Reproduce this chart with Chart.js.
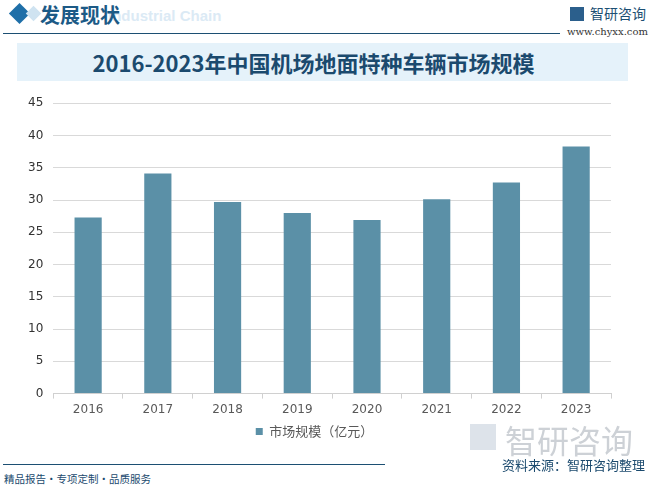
<!DOCTYPE html>
<html>
<head>
<meta charset="utf-8">
<script src="https://cdn.jsdelivr.net/npm/chart.js@4"></script>
<style>
  html,body{margin:0;padding:0;background:#fff;}
  body{width:651px;height:489px;position:relative;overflow:hidden;font-family:"Noto Sans CJK SC","Noto Sans",sans-serif;}
  .abs{position:absolute;}
  #diamond{left:12px;top:6px;width:15px;height:15px;background:#1f6fa8;transform:rotate(45deg);}
  #diamond2{left:28px;top:8px;width:11px;height:11px;background:#cfe3f1;transform:rotate(45deg);}
  #sect{left:40px;top:0px;font-size:20px;font-weight:bold;color:#1c5a86;font-family:"Noto Sans CJK SC";}
  #ghost{left:108px;top:7px;font-size:15px;font-weight:bold;color:#dbeaf5;font-family:"Liberation Sans",sans-serif;}
  #topline{left:3px;top:33px;width:557px;height:1px;background:#1c4f73;}
  #logo{left:570px;top:3px;font-size:14px;color:#1c4f73;}
  #url{left:567px;top:26px;font-size:10px;color:#333;font-family:"DejaVu Serif",serif;}
  #band{left:17px;top:43px;width:611px;height:38px;background:#e5f2fa;}
  #title{left:5px;top:43px;width:617px;height:38px;line-height:38px;text-align:center;font-size:22px;font-weight:bold;color:#1b4a6e;font-family:"Noto Sans CJK SC";}
  #chartbox{left:0px;top:86px;width:651px;height:362px;}
  #wmmark{left:470px;top:424px;width:26px;height:26px;background:#dde3ea;}
  #wm{left:505px;top:416px;font-size:32px;color:#cdd1d6;}
  #src{left:502px;top:455px;font-size:13px;color:#1b4a6e;}
  #botline{left:3px;top:464px;width:382px;height:1px;background:#1c4f73;}
  #slogan{left:4px;top:471px;font-size:10.5px;color:#1b4a6e;}
</style>
</head>
<body>
<div class="abs" id="diamond"></div>
<div class="abs" id="diamond2"></div>
<div class="abs" id="ghost">Industrial Chain</div>
<div class="abs" id="sect">发展现状</div>
<div class="abs" id="topline"></div>
<div class="abs" id="logo"><span style="display:inline-block;width:14px;height:14px;background:#2b5f8c;vertical-align:-2px;margin-right:6px;"></span>智研咨询</div>
<div class="abs" id="url">www.chyxx.com</div>
<div class="abs" id="band"></div>
<div class="abs" id="title">2016-2023年中国机场地面特种车辆市场规模</div>
<div class="abs" id="chartbox"><canvas id="c" width="651" height="362"></canvas></div>
<div class="abs" id="wmmark"></div>
<div class="abs" id="wm">智研咨询</div>
<div class="abs" id="src">资料来源：智研咨询整理</div>
<div class="abs" id="botline"></div>
<div class="abs" id="slogan">精品报告・专项定制・品质服务</div>
<script>
const categories = ["2016","2017","2018","2019","2020","2021","2022","2023"];
const marketSize = [27.3, 34.1, 29.7, 28.0, 26.9, 30.1, 32.7, 38.3];
const seriesName = "市场规模（亿元）";
const yTicks = [0,5,10,15,20,25,30,35,40,45];

const ctx = document.getElementById('c').getContext('2d');
new Chart(ctx, {
  type: 'bar',
  data: {
    labels: categories,
    datasets: [{
      label: seriesName,
      data: marketSize,
      backgroundColor: '#5b90a7',
      categoryPercentage: 0.78,
      barPercentage: 0.5
    }]
  },
  options: {
    responsive: false,
    animation: false,
    devicePixelRatio: 1,
    layout: { padding: { left: 18, right: 40, top: 0, bottom: 0 } },
    plugins: {
      tooltip: { enabled: false },
      legend: {
        position: 'bottom',
        labels: {
          boxWidth: 7, boxHeight: 7, color: '#595959',
          font: { size: 13, family: 'Noto Sans CJK SC' },
          padding: 4
        }
      }
    },
    scales: {
      x: {
        grid: { display: true, drawOnChartArea: false, drawTicks: true, tickLength: 5, color: '#d0d0d0', offset: true },
        border: { color: '#d0d0d0' },
        ticks: { color: '#595959', font: { size: 12, family: 'DejaVu Sans' }, padding: 4 }
      },
      y: {
        min: 0, max: 45,
        afterBuildTicks: (axis) => { axis.ticks = yTicks.map(v => ({ value: v })); },
        grid: { color: '#d9d9d9', drawTicks: false },
        border: { display: false },
        ticks: { color: '#333', font: { size: 12, family: 'DejaVu Sans' }, padding: 10 }
      }
    }
  }
});
</script>
</body>
</html>
